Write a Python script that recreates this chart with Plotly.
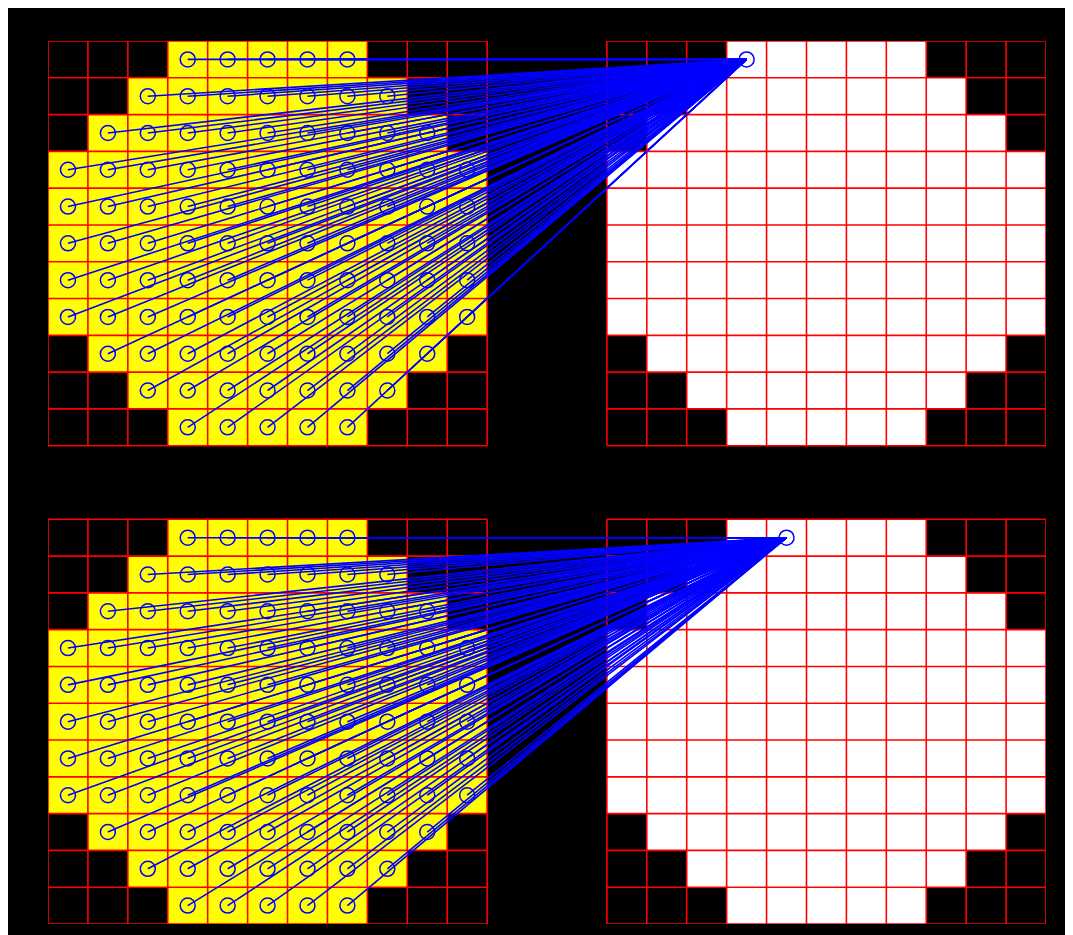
import numpy as np
import plotly.graph_objects as go

# ---- data ----
N = 11                                   # cells per grid side
row_start = [3, 2, 1, 0, 0, 0, 0, 0, 1, 2, 3]   # first active column per row
row_end = [7, 8, 9, 10, 10, 10, 10, 10, 9, 8, 7]  # last active column per row
target_cols = [3, 4]                     # target column in the right grid, per panel
target_rows = [0, 0]                     # target row in the right grid, per panel
GAP_X = 3                                # empty columns between left and right grid
GAP_Y = 2                                # empty rows between the two panels

total_cols = 2 * N + GAP_X
total_rows = 2 * N + GAP_Y

# ---- cell colours (0 black, 1 yellow, 2 white, nan = background) ----
z = np.full((total_rows, total_cols), np.nan)
for p in range(2):
    y0 = p * (N + GAP_Y)
    for r in range(N):
        for c in range(N):
            active = row_start[r] <= c <= row_end[r]
            z[y0 + r, c] = 1 if active else 0
            z[y0 + r, N + GAP_X + c] = 2 if active else 0

fig = go.Figure()
fig.add_trace(go.Heatmap(
    x=np.arange(total_cols) + 0.5, y=np.arange(total_rows) + 0.5, z=z,
    zmin=0, zmax=2, showscale=False, hoverinfo="skip",
    colorscale=[[0, "black"], [0.33, "black"], [0.33, "yellow"], [0.67, "yellow"],
                [0.67, "white"], [1, "white"]],
))

# ---- red grid lines ----
gx, gy = [], []
for p in range(2):
    y0 = p * (N + GAP_Y)
    for x0 in (0, N + GAP_X):
        for k in range(N + 1):
            gx += [x0 + k, x0 + k, None]
            gy += [y0, y0 + N, None]
            gx += [x0, x0 + N, None]
            gy += [y0 + k, y0 + k, None]
fig.add_trace(go.Scatter(x=gx, y=gy, mode="lines", line=dict(color="red", width=1.6),
                         hoverinfo="skip", showlegend=False))

# ---- blue connection lines and circles ----
lx, ly, cx, cy = [], [], [], []
for p in range(2):
    y0 = p * (N + GAP_Y)
    tx = N + GAP_X + target_cols[p] + 0.5
    ty = y0 + target_rows[p] + 0.5
    for r in range(N):
        for c in range(row_start[r], row_end[r] + 1):
            sx, sy = c + 0.5, y0 + r + 0.5
            lx += [sx, tx, None]
            ly += [sy, ty, None]
            cx.append(sx)
            cy.append(sy)
    cx.append(tx)
    cy.append(ty)
fig.add_trace(go.Scatter(x=lx, y=ly, mode="lines", line=dict(color="blue", width=1.6),
                         hoverinfo="skip", showlegend=False))
fig.add_trace(go.Scatter(x=cx, y=cy, mode="markers",
                         marker=dict(symbol="circle-open", size=15, color="blue",
                                     line=dict(width=1.5, color="blue")),
                         hoverinfo="skip", showlegend=False))

fig.update_xaxes(range=[0, total_cols], visible=False, showgrid=False, zeroline=False)
fig.update_yaxes(range=[total_rows, 0], visible=False, showgrid=False, zeroline=False)
fig.update_layout(
    width=1065, height=931,
    margin=dict(l=40, r=27, t=33, b=15),
    paper_bgcolor="black", plot_bgcolor="black",
    showlegend=False,
)
fig.write_html("out.html")
